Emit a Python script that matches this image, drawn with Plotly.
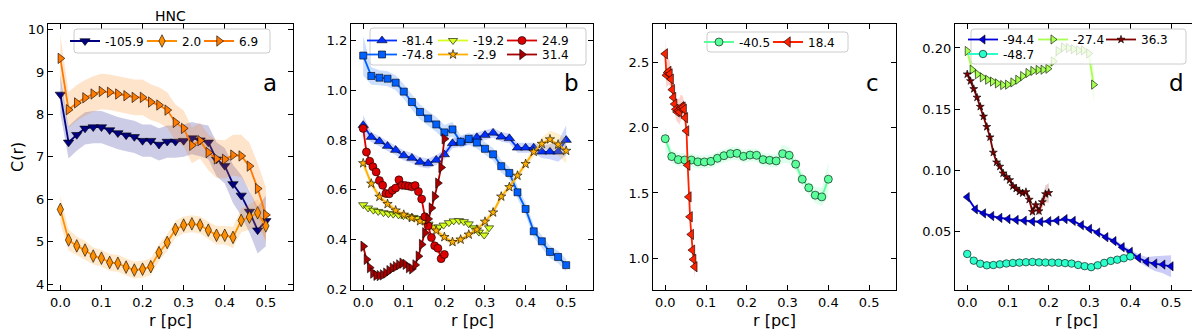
import plotly.graph_objects as go

# the page body keeps its default 8px margin, so the figure is offset by that amount
OFF = 8
W, H = 1200 - OFF, 334 - OFF

# radial bins (pc)
R50 = [0.00, 0.02, 0.04, 0.06, 0.08, 0.10, 0.12, 0.14, 0.16, 0.18, 0.20, 0.22, 0.24,
       0.26, 0.28, 0.30, 0.32, 0.34, 0.36, 0.38, 0.40, 0.42, 0.44, 0.46, 0.48, 0.50]
R40 = [0.000, 0.016, 0.032, 0.048, 0.064, 0.080, 0.096, 0.112, 0.128, 0.144, 0.160, 0.176, 0.192,
       0.208, 0.224, 0.240, 0.256, 0.272, 0.288, 0.304, 0.320, 0.336, 0.352, 0.368, 0.384, 0.400]
R31 = [0.000, 0.012, 0.025, 0.037, 0.050, 0.062, 0.074, 0.087, 0.099, 0.112, 0.124, 0.136, 0.149,
       0.161, 0.174, 0.186, 0.198, 0.211, 0.223, 0.236, 0.248, 0.260, 0.273, 0.285, 0.298, 0.310]
R20 = [0.000, 0.008, 0.016, 0.024, 0.032, 0.040, 0.048, 0.056, 0.064, 0.072, 0.080, 0.088, 0.096,
       0.104, 0.112, 0.120, 0.128, 0.136, 0.144, 0.152, 0.160, 0.168, 0.176, 0.184, 0.192, 0.200]
R07 = [0.0000, 0.0029, 0.0058, 0.0087, 0.0116, 0.0145, 0.0174, 0.0203, 0.0232, 0.0261, 0.0290,
       0.0319, 0.0348, 0.0377, 0.0406, 0.0435, 0.0464, 0.0493, 0.0522, 0.0551, 0.0580, 0.0609,
       0.0638, 0.0667, 0.0696, 0.0725]

# panel a
A_M1059 = [8.47, 7.34, 7.52, 7.67, 7.70, 7.70, 7.63, 7.56, 7.51, 7.47, 7.38, 7.38, 7.29,
           7.36, 7.36, 7.38, 7.44, 7.39, 7.34, 6.94, 6.79, 6.36, 6.09, 5.71, 5.27, 5.49]
A_M1059_E = [0.45, 0.38, 0.38, 0.38, 0.38, 0.38, 0.38, 0.38, 0.38, 0.38, 0.38, 0.38, 0.38,
             0.38, 0.38, 0.38, 0.38, 0.38, 0.40, 0.40, 0.42, 0.45, 0.48, 0.50, 0.55, 0.60]
A_P20 = [5.76, 5.04, 4.90, 4.80, 4.66, 4.61, 4.51, 4.49, 4.40, 4.33, 4.35, 4.41, 4.74,
         4.98, 5.29, 5.39, 5.42, 5.39, 5.27, 5.15, 5.15, 5.10, 5.50, 5.58, 5.68, 5.37]
A_P20_E = [0.33, 0.25, 0.22, 0.22, 0.20, 0.20, 0.20, 0.20, 0.20, 0.20, 0.20, 0.20, 0.20,
           0.20, 0.20, 0.20, 0.20, 0.20, 0.20, 0.22, 0.22, 0.25, 0.28, 0.30, 0.32, 0.35]
A_P69 = [9.32, 8.11, 8.27, 8.39, 8.48, 8.54, 8.52, 8.48, 8.44, 8.40, 8.40, 8.29, 8.22,
         8.10, 7.81, 7.67, 7.27, 7.38, 7.10, 6.95, 6.94, 7.04, 7.02, 6.78, 6.25, 5.63]
A_P69_E = [0.55, 0.42, 0.42, 0.42, 0.42, 0.42, 0.42, 0.42, 0.42, 0.42, 0.42, 0.42, 0.42,
           0.42, 0.42, 0.42, 0.42, 0.42, 0.42, 0.45, 0.45, 0.48, 0.50, 0.55, 0.60, 0.65]

# panel b
B_M814 = [0.860, 0.812, 0.795, 0.776, 0.760, 0.738, 0.728, 0.712, 0.706, 0.720, 0.742, 0.787, 0.792,
          0.800, 0.811, 0.820, 0.829, 0.813, 0.807, 0.769, 0.769, 0.769, 0.753, 0.753, 0.753, 0.800]
B_M814_E = [0.04, 0.02, 0.02, 0.02, 0.02, 0.02, 0.02, 0.02, 0.02, 0.02, 0.02, 0.02, 0.02,
            0.02, 0.02, 0.02, 0.02, 0.02, 0.02, 0.02, 0.02, 0.02, 0.025, 0.03, 0.04, 0.06]
B_M748 = [1.140, 1.058, 1.051, 1.047, 1.031, 0.995, 0.953, 0.913, 0.887, 0.863, 0.831, 0.843, 0.793,
          0.805, 0.790, 0.765, 0.743, 0.695, 0.668, 0.590, 0.523, 0.433, 0.393, 0.350, 0.330, 0.297]
B_M748_E = [0.08, 0.035, 0.03, 0.03, 0.03, 0.03, 0.03, 0.03, 0.03, 0.03, 0.03, 0.03, 0.025,
            0.025, 0.025, 0.025, 0.025, 0.025, 0.025, 0.025, 0.025, 0.025, 0.025, 0.025, 0.025, 0.025]
B_M192 = [0.540, 0.527, 0.518, 0.513, 0.508, 0.504, 0.502, 0.499, 0.496, 0.493, 0.489, 0.484, 0.476,
          0.462, 0.450, 0.450, 0.458, 0.468, 0.475, 0.476, 0.472, 0.463, 0.447, 0.430, 0.418, 0.447]
B_M192_E = [0.015, 0.012, 0.012, 0.012, 0.012, 0.012, 0.012, 0.012, 0.012, 0.012, 0.012, 0.012, 0.012,
            0.012, 0.012, 0.012, 0.012, 0.012, 0.012, 0.012, 0.012, 0.012, 0.014, 0.016, 0.018, 0.022]
B_M29 = [0.707, 0.625, 0.572, 0.543, 0.517, 0.500, 0.487, 0.474, 0.458, 0.436, 0.410, 0.390, 0.400,
         0.420, 0.440, 0.472, 0.509, 0.573, 0.611, 0.657, 0.704, 0.753, 0.785, 0.803, 0.782, 0.757]
B_M29_E = [0.02, 0.015, 0.015, 0.015, 0.015, 0.015, 0.015, 0.015, 0.015, 0.015, 0.015, 0.015, 0.015,
           0.015, 0.015, 0.015, 0.015, 0.015, 0.015, 0.015, 0.015, 0.02, 0.025, 0.035, 0.045, 0.05]
B_P249 = [0.847, 0.752, 0.715, 0.693, 0.672, 0.637, 0.618, 0.585, 0.584, 0.598, 0.607, 0.640, 0.618,
          0.617, 0.615, 0.612, 0.617, 0.593, 0.563, 0.492, 0.455, 0.408, 0.375, 0.365, 0.323, 0.340]
B_P249_E = [0.02, 0.015, 0.012, 0.012, 0.012, 0.012, 0.012, 0.012, 0.012, 0.012, 0.012, 0.012, 0.012,
            0.012, 0.012, 0.012, 0.012, 0.012, 0.012, 0.012, 0.012, 0.012, 0.012, 0.012, 0.015, 0.015]
B_P314 = [0.373, 0.320, 0.287, 0.265, 0.256, 0.255, 0.258, 0.265, 0.275, 0.285, 0.291, 0.298, 0.305,
          0.300, 0.287, 0.282, 0.298, 0.333, 0.380, 0.427, 0.483, 0.527, 0.573, 0.627, 0.690, 0.805]
B_P314_E = [0.012, 0.01, 0.01, 0.01, 0.01, 0.01, 0.01, 0.01, 0.01, 0.01, 0.01, 0.01, 0.01,
            0.01, 0.01, 0.01, 0.01, 0.01, 0.01, 0.01, 0.01, 0.01, 0.01, 0.012, 0.012, 0.015]

# panel c
C_M405 = [1.915, 1.778, 1.755, 1.752, 1.752, 1.738, 1.737, 1.742, 1.765, 1.785, 1.800, 1.803, 1.780,
          1.790, 1.788, 1.755, 1.750, 1.745, 1.800, 1.788, 1.720, 1.605, 1.540, 1.483, 1.470, 1.605]
C_M405_E = [0.09, 0.05, 0.05, 0.05, 0.05, 0.05, 0.05, 0.05, 0.05, 0.05, 0.05, 0.05, 0.05,
            0.05, 0.05, 0.05, 0.05, 0.05, 0.07, 0.06, 0.05, 0.05, 0.05, 0.06, 0.07, 0.13]
C_P184 = [2.564, 2.400, 2.420, 2.430, 2.410, 2.370, 2.290, 2.230, 2.180, 2.140, 2.120, 2.130, 2.120,
          2.150, 2.160, 2.155, 2.140, 2.075, 1.975, 1.712, 1.470, 1.318, 1.183, 1.063, 0.992, 0.936]
C_P184_E = [0.12, 0.10, 0.10, 0.10, 0.09, 0.08, 0.07, 0.07, 0.07, 0.07, 0.08, 0.09, 0.10,
            0.10, 0.09, 0.08, 0.06, 0.05, 0.05, 0.05, 0.05, 0.05, 0.05, 0.06, 0.07, 0.09]

# panel d
D_M944 = [0.0780, 0.0680, 0.0647, 0.0625, 0.0610, 0.0600, 0.0593, 0.0587, 0.0580, 0.0578, 0.0583,
          0.0588, 0.0600, 0.0585, 0.0550, 0.0520, 0.0490, 0.0452, 0.0420, 0.0370, 0.0332, 0.0282,
          0.0250, 0.0236, 0.0228, 0.0214]
D_M944_E = [0.0015, 0.0012, 0.0012, 0.0012, 0.0012, 0.0012, 0.0012, 0.0012, 0.0012, 0.0012, 0.0012,
            0.0012, 0.0012, 0.0012, 0.0012, 0.0012, 0.0012, 0.0015, 0.0015, 0.002, 0.002, 0.003,
            0.004, 0.006, 0.007, 0.009]
D_M487 = [0.0315, 0.0260, 0.0235, 0.0222, 0.0224, 0.0230, 0.0237, 0.0241, 0.0244, 0.0247, 0.0249,
          0.0246, 0.0245, 0.0244, 0.0243, 0.0240, 0.0236, 0.0225, 0.0215, 0.0207, 0.0222, 0.0242,
          0.0258, 0.0268, 0.0280, 0.0295]
D_M487_E = [0.0012, 0.001, 0.001, 0.001, 0.001, 0.001, 0.001, 0.001, 0.001, 0.001, 0.001,
            0.001, 0.001, 0.001, 0.001, 0.001, 0.001, 0.001, 0.001, 0.001, 0.001, 0.001,
            0.001, 0.001, 0.0012, 0.0015]
D_M274 = [0.1975, 0.1822, 0.1785, 0.1760, 0.1740, 0.1725, 0.1710, 0.1697, 0.1700, 0.1718, 0.1740,
          0.1770, 0.1795, 0.1812, 0.1820, 0.1822, 0.1830, 0.1890, 0.1975, 0.2005, 0.2000, 0.1990,
          0.1980, 0.1980, 0.1955, 0.1700]
D_M274_E = [0.005, 0.003, 0.003, 0.003, 0.003, 0.003, 0.003, 0.003, 0.003, 0.003, 0.003,
            0.003, 0.003, 0.003, 0.003, 0.003, 0.003, 0.003, 0.003, 0.003, 0.003, 0.003,
            0.003, 0.004, 0.006, 0.015]
D_P363 = [0.1785, 0.1730, 0.1665, 0.1595, 0.1520, 0.1440, 0.1355, 0.1270, 0.1145, 0.1065, 0.1030,
          0.0975, 0.0945, 0.0920, 0.0870, 0.0850, 0.0825, 0.0812, 0.0822, 0.0760, 0.0660, 0.0715,
          0.0665, 0.0740, 0.0805, 0.0815]
D_P363_E = [0.002, 0.0015, 0.0015, 0.0015, 0.0015, 0.0015, 0.0015, 0.0015, 0.0015, 0.0015, 0.0015,
            0.0015, 0.0015, 0.0015, 0.0015, 0.0015, 0.0015, 0.0015, 0.002, 0.003, 0.004, 0.004,
            0.004, 0.005, 0.007, 0.008]

# (panel, label, r, C, err, colour, marker, size, legend line start x px, legend centre y px)
SERIES = [
    (1, "-105.9", R50, A_M1059, A_M1059_E, "#000080", "triangle-down", 9, 78, 41),
    (1, "2.0", R50, A_P20, A_P20_E, "#ff8f00", "diamond-tall", 9, 155, 41),
    (1, "6.9", R50, A_P69, A_P69_E, "#ff7a00", "triangle-right", 9, 212, 41),
    (2, "-81.4", R50, B_M814, B_M814_E, "#0030ff", "triangle-up", 9, 375, 40.5),
    (2, "-74.8", R50, B_M748, B_M748_E, "#0060ff", "square", 7, 375, 54.5),
    (2, "-19.2", R31, B_M192, B_M192_E, "#d6ff21", "triangle-down", 8, 446, 40.5),
    (2, "-2.9", R50, B_M29, B_M29_E, "#ffaf00", "star", 7, 446, 54.5),
    (2, "24.9", R20, B_P249, B_P249_E, "#dd0000", "circle", 8, 515, 40.5),
    (2, "31.4", R20, B_P314, B_P314_E, "#a80000", "triangle-right", 9, 515, 54.5),
    (3, "-40.5", R40, C_M405, C_M405_E, "#5aff9c", "circle", 8, 712, 42),
    (3, "18.4", R07, C_P184, C_P184_E, "#ff2200", "triangle-left", 9, 781, 42),
    (4, "-94.4", R50, D_M944, D_M944_E, "#0000dd", "triangle-left", 8, 976, 39.5),
    (4, "-48.7", R40, D_M487, D_M487_E, "#2bffcc", "circle", 7.5, 976, 54),
    (4, "-27.4", R31, D_M274, D_M274_E, "#a6ff51", "triangle-right", 8, 1046, 39.5),
    (4, "36.3", R20, D_P363, D_P363_E, "#800000", "star", 6, 1114, 39.5),
]

X_DOM = [(48, 293), (351, 593), (653, 896), (955, 1198)]
Y_DOM = (24, 290)
Y_RANGE = [(3.86, 10.13), (0.197, 1.267), (0.758, 2.792), (0.002, 0.2196)]
Y_DTICK = [1, 0.2, 0.5, 0.05]
Y_FMT = [".0f", ".1f", ".1f", ".2f"]
LETTERS = [("a", 269.5), ("b", 571.5), ("c", 872.5), ("d", 1176.5)]
FRAMES = [(74, 29, 270, 53), (370, 28, 586, 65), (707, 32, 848, 52), (971, 29, 1186, 64)]

FONT = "DejaVu Sans"


def rgba(hexcol, a):
    h = hexcol.lstrip("#")
    return "rgba(%d,%d,%d,%.2f)" % (int(h[0:2], 16), int(h[2:4], 16), int(h[4:6], 16), a)


def px(x):
    return (x - OFF) / W


def py(y):
    return 1 - (y - OFF) / H


fig = go.Figure()

for k, (p, lab, r, c, e, col, sym, size, lx, ly) in enumerate(SERIES):
    xa = "x" if p == 1 else "x%d" % p
    ya = "y" if p == 1 else "y%d" % p
    up = [v + d for v, d in zip(c, e)]
    lo = [v - d for v, d in zip(c, e)]
    fig.add_trace(go.Scatter(
        x=list(r) + list(r)[::-1], y=up + lo[::-1], xaxis=xa, yaxis=ya,
        fill="toself", fillcolor=rgba(col, 0.2), line=dict(width=0),
        mode="lines", showlegend=False, hoverinfo="skip"))
    leg = "legend" if k == 0 else "legend%d" % (k + 1)
    fig.add_trace(go.Scatter(
        x=r, y=c, xaxis=xa, yaxis=ya, name=lab, mode="lines+markers",
        line=dict(color=col, width=1.8),
        marker=dict(symbol=sym, size=size, color=col, line=dict(color="black", width=0.6)),
        legend=leg))
    fig.update_layout({leg: dict(
        x=px(lx - 13), y=py(ly), xanchor="left", yanchor="middle",
        bgcolor="rgba(0,0,0,0)", borderwidth=0,
        font=dict(family=FONT, size=12, color="black"))})

axis_style = dict(ticks="inside", ticklen=5, tickwidth=1, tickcolor="black",
                  showline=True, linecolor="black", linewidth=1.3, mirror="allticks",
                  showgrid=False, zeroline=False, automargin=False,
                  tickfont=dict(family=FONT, size=13, color="black"))

layout = {}
for i in range(4):
    n = "" if i == 0 else str(i + 1)
    layout["xaxis" + n] = dict(domain=[px(X_DOM[i][0]), px(X_DOM[i][1])], range=[-0.03, 0.566],
                               anchor="y" + n, tick0=0, dtick=0.1, tickformat=".1f", **axis_style)
    layout["yaxis" + n] = dict(domain=[py(Y_DOM[1]), py(Y_DOM[0])], range=list(Y_RANGE[i]),
                               anchor="x" + n, tick0=0, dtick=Y_DTICK[i], tickformat=Y_FMT[i],
                               **axis_style)
fig.update_layout(layout)

ann = [dict(text="HNC", x=px(170.5), y=py(16.5), xref="paper", yref="paper", showarrow=False,
            xanchor="center", yanchor="middle", font=dict(family=FONT, size=14, color="black")),
       dict(text="C(r)", x=px(17), y=py(157), xref="paper", yref="paper", showarrow=False,
            textangle=-90, xanchor="center", yanchor="middle",
            font=dict(family=FONT, size=16, color="black"))]
for i, (letter, lxp) in enumerate(LETTERS):
    ann.append(dict(text=letter, x=px(lxp), y=py(83), xref="paper", yref="paper", showarrow=False,
                    xanchor="center", yanchor="middle",
                    font=dict(family=FONT, size=23, color="black")))
    ann.append(dict(text="r [pc]", x=px((X_DOM[i][0] + X_DOM[i][1]) / 2), y=py(320),
                    xref="paper", yref="paper", showarrow=False, xanchor="center",
                    yanchor="middle", font=dict(family=FONT, size=16, color="black")))


def frame(x0, y0, x1, y1, rad=3):
    pts = (f"M {px(x0 + rad)},{py(y0)} L {px(x1 - rad)},{py(y0)} "
           f"Q {px(x1)},{py(y0)} {px(x1)},{py(y0 + rad)} L {px(x1)},{py(y1 - rad)} "
           f"Q {px(x1)},{py(y1)} {px(x1 - rad)},{py(y1)} L {px(x0 + rad)},{py(y1)} "
           f"Q {px(x0)},{py(y1)} {px(x0)},{py(y1 - rad)} L {px(x0)},{py(y0 + rad)} "
           f"Q {px(x0)},{py(y0)} {px(x0 + rad)},{py(y0)} Z")
    return dict(type="path", path=pts, xref="paper", yref="paper", layer="above",
                fillcolor="rgba(255,255,255,0.8)", line=dict(color="#cccccc", width=1))


fig.update_layout(
    width=W, height=H, margin=dict(l=0, r=0, t=0, b=0),
    paper_bgcolor="white", plot_bgcolor="white",
    annotations=ann, shapes=[frame(*f) for f in FRAMES],
    font=dict(family=FONT, color="black"))

fig.write_html("out.html")
